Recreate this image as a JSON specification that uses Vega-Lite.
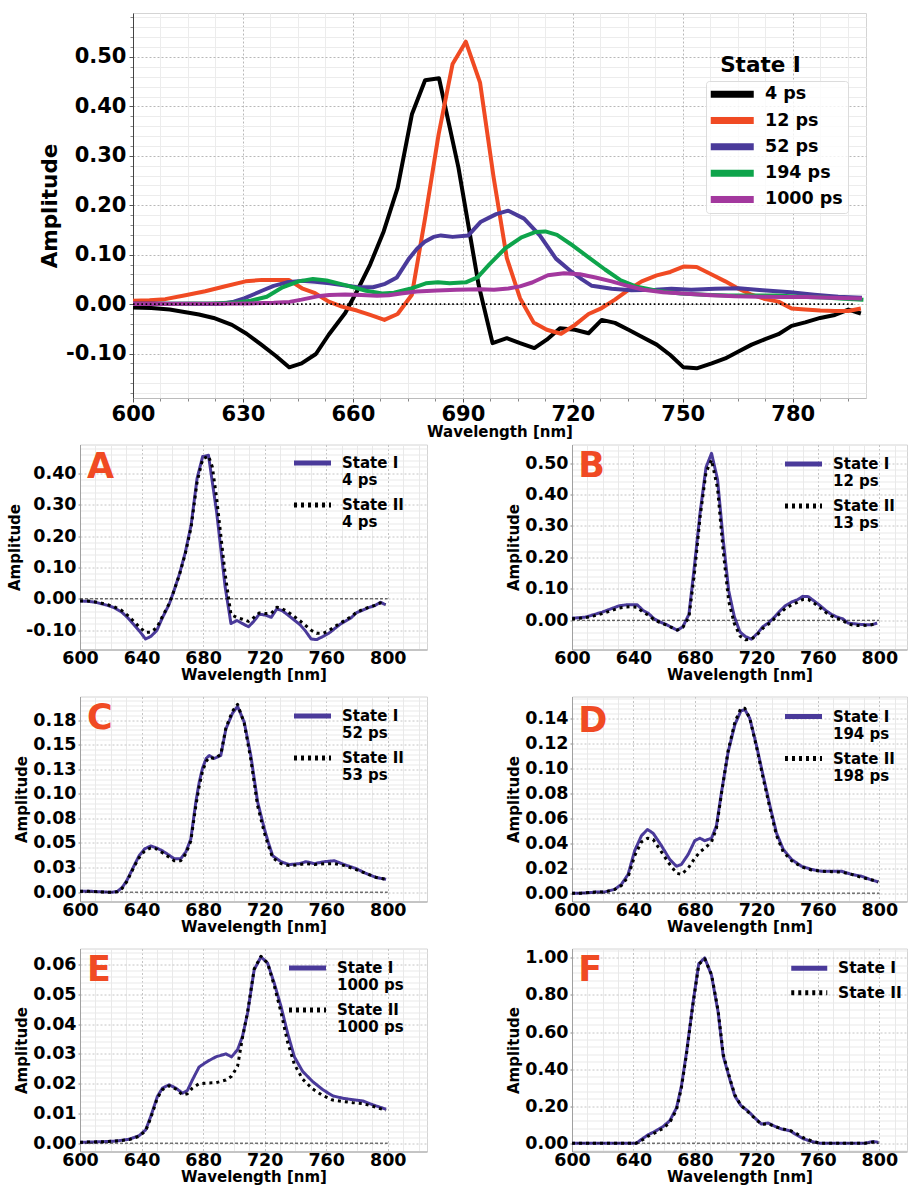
{
  "$schema": "https://vega.github.io/schema/vega-lite/v6.json",
  "padding": {"left": 7, "top": 12, "right": 0, "bottom": 0},
  "columns": 1,
  "spacing": 3.5,
  "config": {
    "font": "DejaVu Sans",
    "view": {"stroke": "#d4d4d4", "strokeWidth": 1},
    "axis": {"labelFont": "DejaVu Sans", "titleFont": "DejaVu Sans", "labelFontWeight": "bold", "titleFontWeight": "bold", "labelColor": "#000000", "titleColor": "#000000"},
    "legend": {"labelFont": "DejaVu Sans", "labelFontWeight": "bold", "labelColor": "#000000", "labelLimit": 300},
    "line": {"strokeJoin": "round", "strokeCap": "butt"}
  },
  "resolve": {"scale": {"color": "independent", "strokeDash": "independent"}, "legend": {"color": "independent", "strokeDash": "independent"}},
  "datasets": {
    "spectra": [
      {"panel":"A","state":"State I","delay":"4 ps","wl":600,"amp":-0.007},
      {"panel":"A","state":"State I","delay":"4 ps","wl":605,"amp":-0.008},
      {"panel":"A","state":"State I","delay":"4 ps","wl":610,"amp":-0.011},
      {"panel":"A","state":"State I","delay":"4 ps","wl":614,"amp":-0.016},
      {"panel":"A","state":"State I","delay":"4 ps","wl":618,"amp":-0.021},
      {"panel":"A","state":"State I","delay":"4 ps","wl":622,"amp":-0.028},
      {"panel":"A","state":"State I","delay":"4 ps","wl":627,"amp":-0.042},
      {"panel":"A","state":"State I","delay":"4 ps","wl":631,"amp":-0.06},
      {"panel":"A","state":"State I","delay":"4 ps","wl":635,"amp":-0.082},
      {"panel":"A","state":"State I","delay":"4 ps","wl":639,"amp":-0.105},
      {"panel":"A","state":"State I","delay":"4 ps","wl":642.6,"amp":-0.128},
      {"panel":"A","state":"State I","delay":"4 ps","wl":646,"amp":-0.12},
      {"panel":"A","state":"State I","delay":"4 ps","wl":649.9,"amp":-0.101},
      {"panel":"A","state":"State I","delay":"4 ps","wl":653.4,"amp":-0.062},
      {"panel":"A","state":"State I","delay":"4 ps","wl":657.9,"amp":-0.018},
      {"panel":"A","state":"State I","delay":"4 ps","wl":661.1,"amp":0.026},
      {"panel":"A","state":"State I","delay":"4 ps","wl":664.7,"amp":0.08},
      {"panel":"A","state":"State I","delay":"4 ps","wl":668.4,"amp":0.147},
      {"panel":"A","state":"State I","delay":"4 ps","wl":672.2,"amp":0.235},
      {"panel":"A","state":"State I","delay":"4 ps","wl":676.1,"amp":0.384},
      {"panel":"A","state":"State I","delay":"4 ps","wl":679.7,"amp":0.453},
      {"panel":"A","state":"State I","delay":"4 ps","wl":683.5,"amp":0.457},
      {"panel":"A","state":"State I","delay":"4 ps","wl":688.8,"amp":0.276},
      {"panel":"A","state":"State I","delay":"4 ps","wl":694.3,"amp":0.039},
      {"panel":"A","state":"State I","delay":"4 ps","wl":698.1,"amp":-0.079},
      {"panel":"A","state":"State I","delay":"4 ps","wl":702,"amp":-0.069},
      {"panel":"A","state":"State I","delay":"4 ps","wl":705.6,"amp":-0.079},
      {"panel":"A","state":"State I","delay":"4 ps","wl":709.5,"amp":-0.089},
      {"panel":"A","state":"State I","delay":"4 ps","wl":712.9,"amp":-0.072},
      {"panel":"A","state":"State I","delay":"4 ps","wl":716.5,"amp":-0.049},
      {"panel":"A","state":"State I","delay":"4 ps","wl":720.6,"amp":-0.052},
      {"panel":"A","state":"State I","delay":"4 ps","wl":724.3,"amp":-0.059},
      {"panel":"A","state":"State I","delay":"4 ps","wl":727.9,"amp":-0.032},
      {"panel":"A","state":"State I","delay":"4 ps","wl":731.5,"amp":-0.038},
      {"panel":"A","state":"State I","delay":"4 ps","wl":735.2,"amp":-0.052},
      {"panel":"A","state":"State I","delay":"4 ps","wl":738.8,"amp":-0.066},
      {"panel":"A","state":"State I","delay":"4 ps","wl":742.9,"amp":-0.082},
      {"panel":"A","state":"State I","delay":"4 ps","wl":746.6,"amp":-0.103},
      {"panel":"A","state":"State I","delay":"4 ps","wl":750.2,"amp":-0.128},
      {"panel":"A","state":"State I","delay":"4 ps","wl":753.8,"amp":-0.13},
      {"panel":"A","state":"State I","delay":"4 ps","wl":757.9,"amp":-0.12},
      {"panel":"A","state":"State I","delay":"4 ps","wl":761.6,"amp":-0.11},
      {"panel":"A","state":"State I","delay":"4 ps","wl":765.2,"amp":-0.096},
      {"panel":"A","state":"State I","delay":"4 ps","wl":768.8,"amp":-0.082},
      {"panel":"A","state":"State I","delay":"4 ps","wl":772.5,"amp":-0.071},
      {"panel":"A","state":"State I","delay":"4 ps","wl":776.1,"amp":-0.061},
      {"panel":"A","state":"State I","delay":"4 ps","wl":779.7,"amp":-0.044},
      {"panel":"A","state":"State I","delay":"4 ps","wl":783.4,"amp":-0.037},
      {"panel":"A","state":"State I","delay":"4 ps","wl":787.5,"amp":-0.028},
      {"panel":"A","state":"State I","delay":"4 ps","wl":791.5,"amp":-0.022},
      {"panel":"A","state":"State I","delay":"4 ps","wl":795.2,"amp":-0.011},
      {"panel":"A","state":"State I","delay":"4 ps","wl":798.6,"amp":-0.019},

      {"panel":"A","state":"State II","delay":"4 ps","wl":600,"amp":-0.007},
      {"panel":"A","state":"State II","delay":"4 ps","wl":605,"amp":-0.007},
      {"panel":"A","state":"State II","delay":"4 ps","wl":610,"amp":-0.01},
      {"panel":"A","state":"State II","delay":"4 ps","wl":614,"amp":-0.014},
      {"panel":"A","state":"State II","delay":"4 ps","wl":618,"amp":-0.019},
      {"panel":"A","state":"State II","delay":"4 ps","wl":622,"amp":-0.025},
      {"panel":"A","state":"State II","delay":"4 ps","wl":627,"amp":-0.037},
      {"panel":"A","state":"State II","delay":"4 ps","wl":631,"amp":-0.053},
      {"panel":"A","state":"State II","delay":"4 ps","wl":635,"amp":-0.072},
      {"panel":"A","state":"State II","delay":"4 ps","wl":639,"amp":-0.092},
      {"panel":"A","state":"State II","delay":"4 ps","wl":642.6,"amp":-0.107},
      {"panel":"A","state":"State II","delay":"4 ps","wl":646,"amp":-0.106},
      {"panel":"A","state":"State II","delay":"4 ps","wl":649.9,"amp":-0.092},
      {"panel":"A","state":"State II","delay":"4 ps","wl":653.4,"amp":-0.058},
      {"panel":"A","state":"State II","delay":"4 ps","wl":657.9,"amp":-0.016},
      {"panel":"A","state":"State II","delay":"4 ps","wl":661.1,"amp":0.026},
      {"panel":"A","state":"State II","delay":"4 ps","wl":664.7,"amp":0.078},
      {"panel":"A","state":"State II","delay":"4 ps","wl":668.4,"amp":0.143},
      {"panel":"A","state":"State II","delay":"4 ps","wl":672.2,"amp":0.228},
      {"panel":"A","state":"State II","delay":"4 ps","wl":676.1,"amp":0.372},
      {"panel":"A","state":"State II","delay":"4 ps","wl":679.7,"amp":0.445},
      {"panel":"A","state":"State II","delay":"4 ps","wl":683.5,"amp":0.455},
      {"panel":"A","state":"State II","delay":"4 ps","wl":686,"amp":0.42},
      {"panel":"A","state":"State II","delay":"4 ps","wl":688.8,"amp":0.32},
      {"panel":"A","state":"State II","delay":"4 ps","wl":694.3,"amp":0.08},
      {"panel":"A","state":"State II","delay":"4 ps","wl":698.1,"amp":-0.05},
      {"panel":"A","state":"State II","delay":"4 ps","wl":702,"amp":-0.06},
      {"panel":"A","state":"State II","delay":"4 ps","wl":705.6,"amp":-0.065},
      {"panel":"A","state":"State II","delay":"4 ps","wl":709.5,"amp":-0.072},
      {"panel":"A","state":"State II","delay":"4 ps","wl":712.9,"amp":-0.06},
      {"panel":"A","state":"State II","delay":"4 ps","wl":716.5,"amp":-0.045},
      {"panel":"A","state":"State II","delay":"4 ps","wl":720.6,"amp":-0.047},
      {"panel":"A","state":"State II","delay":"4 ps","wl":724.3,"amp":-0.046},
      {"panel":"A","state":"State II","delay":"4 ps","wl":727.9,"amp":-0.027},
      {"panel":"A","state":"State II","delay":"4 ps","wl":731.5,"amp":-0.032},
      {"panel":"A","state":"State II","delay":"4 ps","wl":735.2,"amp":-0.042},
      {"panel":"A","state":"State II","delay":"4 ps","wl":738.8,"amp":-0.055},
      {"panel":"A","state":"State II","delay":"4 ps","wl":742.9,"amp":-0.07},
      {"panel":"A","state":"State II","delay":"4 ps","wl":746.6,"amp":-0.085},
      {"panel":"A","state":"State II","delay":"4 ps","wl":750.2,"amp":-0.1},
      {"panel":"A","state":"State II","delay":"4 ps","wl":753.8,"amp":-0.11},
      {"panel":"A","state":"State II","delay":"4 ps","wl":757.9,"amp":-0.11},
      {"panel":"A","state":"State II","delay":"4 ps","wl":761.6,"amp":-0.102},
      {"panel":"A","state":"State II","delay":"4 ps","wl":765.2,"amp":-0.09},
      {"panel":"A","state":"State II","delay":"4 ps","wl":768.8,"amp":-0.078},
      {"panel":"A","state":"State II","delay":"4 ps","wl":772.5,"amp":-0.068},
      {"panel":"A","state":"State II","delay":"4 ps","wl":776.1,"amp":-0.057},
      {"panel":"A","state":"State II","delay":"4 ps","wl":779.7,"amp":-0.043},
      {"panel":"A","state":"State II","delay":"4 ps","wl":783.4,"amp":-0.035},
      {"panel":"A","state":"State II","delay":"4 ps","wl":787.5,"amp":-0.027},
      {"panel":"A","state":"State II","delay":"4 ps","wl":791.5,"amp":-0.021},
      {"panel":"A","state":"State II","delay":"4 ps","wl":795.2,"amp":-0.013},
      {"panel":"A","state":"State II","delay":"4 ps","wl":798.6,"amp":-0.018},

      {"panel":"B","state":"State I","delay":"12 ps","wl":600,"amp":0.007},
      {"panel":"B","state":"State I","delay":"12 ps","wl":604.5,"amp":0.008},
      {"panel":"B","state":"State I","delay":"12 ps","wl":608.8,"amp":0.01},
      {"panel":"B","state":"State I","delay":"12 ps","wl":614.3,"amp":0.018},
      {"panel":"B","state":"State I","delay":"12 ps","wl":619.7,"amp":0.026},
      {"panel":"B","state":"State I","delay":"12 ps","wl":625.2,"amp":0.036},
      {"panel":"B","state":"State I","delay":"12 ps","wl":630.7,"amp":0.046},
      {"panel":"B","state":"State I","delay":"12 ps","wl":635.2,"amp":0.049},
      {"panel":"B","state":"State I","delay":"12 ps","wl":638.9,"amp":0.049},
      {"panel":"B","state":"State I","delay":"12 ps","wl":642.5,"amp":0.049},
      {"panel":"B","state":"State I","delay":"12 ps","wl":646.1,"amp":0.032},
      {"panel":"B","state":"State I","delay":"12 ps","wl":649.7,"amp":0.022},
      {"panel":"B","state":"State I","delay":"12 ps","wl":653.4,"amp":0.005},
      {"panel":"B","state":"State I","delay":"12 ps","wl":657,"amp":-0.005},
      {"panel":"B","state":"State I","delay":"12 ps","wl":661.1,"amp":-0.013},
      {"panel":"B","state":"State I","delay":"12 ps","wl":664.7,"amp":-0.022},
      {"panel":"B","state":"State I","delay":"12 ps","wl":668.6,"amp":-0.032},
      {"panel":"B","state":"State I","delay":"12 ps","wl":672.2,"amp":-0.02},
      {"panel":"B","state":"State I","delay":"12 ps","wl":676.1,"amp":0.019},
      {"panel":"B","state":"State I","delay":"12 ps","wl":679.7,"amp":0.174},
      {"panel":"B","state":"State I","delay":"12 ps","wl":683.4,"amp":0.344},
      {"panel":"B","state":"State I","delay":"12 ps","wl":687.2,"amp":0.486},
      {"panel":"B","state":"State I","delay":"12 ps","wl":690.8,"amp":0.531},
      {"panel":"B","state":"State I","delay":"12 ps","wl":694.7,"amp":0.448},
      {"panel":"B","state":"State I","delay":"12 ps","wl":698.4,"amp":0.256},
      {"panel":"B","state":"State I","delay":"12 ps","wl":702,"amp":0.093},
      {"panel":"B","state":"State I","delay":"12 ps","wl":705.6,"amp":0.012},
      {"panel":"B","state":"State I","delay":"12 ps","wl":709.3,"amp":-0.037},
      {"panel":"B","state":"State I","delay":"12 ps","wl":712.9,"amp":-0.052},
      {"panel":"B","state":"State I","delay":"12 ps","wl":716.8,"amp":-0.06},
      {"panel":"B","state":"State I","delay":"12 ps","wl":720.6,"amp":-0.042},
      {"panel":"B","state":"State I","delay":"12 ps","wl":724.3,"amp":-0.02},
      {"panel":"B","state":"State I","delay":"12 ps","wl":727.9,"amp":-0.008},
      {"panel":"B","state":"State I","delay":"12 ps","wl":731.5,"amp":0.009},
      {"panel":"B","state":"State I","delay":"12 ps","wl":735.2,"amp":0.029},
      {"panel":"B","state":"State I","delay":"12 ps","wl":738.8,"amp":0.046},
      {"panel":"B","state":"State I","delay":"12 ps","wl":742.9,"amp":0.058},
      {"panel":"B","state":"State I","delay":"12 ps","wl":746.6,"amp":0.065},
      {"panel":"B","state":"State I","delay":"12 ps","wl":750.2,"amp":0.076},
      {"panel":"B","state":"State I","delay":"12 ps","wl":753.8,"amp":0.075},
      {"panel":"B","state":"State I","delay":"12 ps","wl":757.9,"amp":0.06},
      {"panel":"B","state":"State I","delay":"12 ps","wl":761.6,"amp":0.046},
      {"panel":"B","state":"State I","delay":"12 ps","wl":765.2,"amp":0.031},
      {"panel":"B","state":"State I","delay":"12 ps","wl":768.8,"amp":0.019},
      {"panel":"B","state":"State I","delay":"12 ps","wl":772.5,"amp":0.01},
      {"panel":"B","state":"State I","delay":"12 ps","wl":776.1,"amp":0.005},
      {"panel":"B","state":"State I","delay":"12 ps","wl":779.7,"amp":-0.009},
      {"panel":"B","state":"State I","delay":"12 ps","wl":783.4,"amp":-0.011},
      {"panel":"B","state":"State I","delay":"12 ps","wl":787.5,"amp":-0.013},
      {"panel":"B","state":"State I","delay":"12 ps","wl":791.5,"amp":-0.014},
      {"panel":"B","state":"State I","delay":"12 ps","wl":795.2,"amp":-0.014},
      {"panel":"B","state":"State I","delay":"12 ps","wl":798.6,"amp":-0.009},

      {"panel":"B","state":"State II","delay":"13 ps","wl":600,"amp":0.005},
      {"panel":"B","state":"State II","delay":"13 ps","wl":604.5,"amp":0.006},
      {"panel":"B","state":"State II","delay":"13 ps","wl":608.8,"amp":0.008},
      {"panel":"B","state":"State II","delay":"13 ps","wl":614.3,"amp":0.014},
      {"panel":"B","state":"State II","delay":"13 ps","wl":619.7,"amp":0.021},
      {"panel":"B","state":"State II","delay":"13 ps","wl":625.2,"amp":0.03},
      {"panel":"B","state":"State II","delay":"13 ps","wl":630.7,"amp":0.039},
      {"panel":"B","state":"State II","delay":"13 ps","wl":635.2,"amp":0.042},
      {"panel":"B","state":"State II","delay":"13 ps","wl":638.9,"amp":0.043},
      {"panel":"B","state":"State II","delay":"13 ps","wl":642.5,"amp":0.041},
      {"panel":"B","state":"State II","delay":"13 ps","wl":646.1,"amp":0.026},
      {"panel":"B","state":"State II","delay":"13 ps","wl":649.7,"amp":0.016},
      {"panel":"B","state":"State II","delay":"13 ps","wl":653.4,"amp":0.002},
      {"panel":"B","state":"State II","delay":"13 ps","wl":657,"amp":-0.007},
      {"panel":"B","state":"State II","delay":"13 ps","wl":661.1,"amp":-0.015},
      {"panel":"B","state":"State II","delay":"13 ps","wl":664.7,"amp":-0.023},
      {"panel":"B","state":"State II","delay":"13 ps","wl":668.6,"amp":-0.031},
      {"panel":"B","state":"State II","delay":"13 ps","wl":672.2,"amp":-0.022},
      {"panel":"B","state":"State II","delay":"13 ps","wl":676.1,"amp":0.01},
      {"panel":"B","state":"State II","delay":"13 ps","wl":679.7,"amp":0.15},
      {"panel":"B","state":"State II","delay":"13 ps","wl":683.4,"amp":0.33},
      {"panel":"B","state":"State II","delay":"13 ps","wl":687.2,"amp":0.47},
      {"panel":"B","state":"State II","delay":"13 ps","wl":690.8,"amp":0.51},
      {"panel":"B","state":"State II","delay":"13 ps","wl":694.7,"amp":0.42},
      {"panel":"B","state":"State II","delay":"13 ps","wl":698.4,"amp":0.22},
      {"panel":"B","state":"State II","delay":"13 ps","wl":702,"amp":0.06},
      {"panel":"B","state":"State II","delay":"13 ps","wl":705.6,"amp":-0.01},
      {"panel":"B","state":"State II","delay":"13 ps","wl":709.3,"amp":-0.05},
      {"panel":"B","state":"State II","delay":"13 ps","wl":712.9,"amp":-0.062},
      {"panel":"B","state":"State II","delay":"13 ps","wl":716.8,"amp":-0.06},
      {"panel":"B","state":"State II","delay":"13 ps","wl":720.6,"amp":-0.045},
      {"panel":"B","state":"State II","delay":"13 ps","wl":724.3,"amp":-0.025},
      {"panel":"B","state":"State II","delay":"13 ps","wl":727.9,"amp":-0.012},
      {"panel":"B","state":"State II","delay":"13 ps","wl":731.5,"amp":0.004},
      {"panel":"B","state":"State II","delay":"13 ps","wl":735.2,"amp":0.022},
      {"panel":"B","state":"State II","delay":"13 ps","wl":738.8,"amp":0.037},
      {"panel":"B","state":"State II","delay":"13 ps","wl":742.9,"amp":0.049},
      {"panel":"B","state":"State II","delay":"13 ps","wl":746.6,"amp":0.057},
      {"panel":"B","state":"State II","delay":"13 ps","wl":750.2,"amp":0.066},
      {"panel":"B","state":"State II","delay":"13 ps","wl":753.8,"amp":0.066},
      {"panel":"B","state":"State II","delay":"13 ps","wl":757.9,"amp":0.053},
      {"panel":"B","state":"State II","delay":"13 ps","wl":761.6,"amp":0.039},
      {"panel":"B","state":"State II","delay":"13 ps","wl":765.2,"amp":0.025},
      {"panel":"B","state":"State II","delay":"13 ps","wl":768.8,"amp":0.014},
      {"panel":"B","state":"State II","delay":"13 ps","wl":772.5,"amp":0.006},
      {"panel":"B","state":"State II","delay":"13 ps","wl":776.1,"amp":0.0},
      {"panel":"B","state":"State II","delay":"13 ps","wl":779.7,"amp":-0.012},
      {"panel":"B","state":"State II","delay":"13 ps","wl":783.4,"amp":-0.016},
      {"panel":"B","state":"State II","delay":"13 ps","wl":787.5,"amp":-0.017},
      {"panel":"B","state":"State II","delay":"13 ps","wl":791.5,"amp":-0.016},
      {"panel":"B","state":"State II","delay":"13 ps","wl":795.2,"amp":-0.014},
      {"panel":"B","state":"State II","delay":"13 ps","wl":798.6,"amp":-0.01},

      {"panel":"C","state":"State I","delay":"52 ps","wl":600,"amp":0.001},
      {"panel":"C","state":"State I","delay":"52 ps","wl":606,"amp":0.001},
      {"panel":"C","state":"State I","delay":"52 ps","wl":612,"amp":0.0005},
      {"panel":"C","state":"State I","delay":"52 ps","wl":618,"amp":0.0},
      {"panel":"C","state":"State I","delay":"52 ps","wl":621,"amp":0.0},
      {"panel":"C","state":"State I","delay":"52 ps","wl":624.3,"amp":0.0007},
      {"panel":"C","state":"State I","delay":"52 ps","wl":627.5,"amp":0.005},
      {"panel":"C","state":"State I","delay":"52 ps","wl":630.5,"amp":0.012},
      {"panel":"C","state":"State I","delay":"52 ps","wl":633,"amp":0.02},
      {"panel":"C","state":"State I","delay":"52 ps","wl":635.5,"amp":0.028},
      {"panel":"C","state":"State I","delay":"52 ps","wl":638.4,"amp":0.037},
      {"panel":"C","state":"State I","delay":"52 ps","wl":642,"amp":0.044},
      {"panel":"C","state":"State I","delay":"52 ps","wl":646,"amp":0.047},
      {"panel":"C","state":"State I","delay":"52 ps","wl":649.7,"amp":0.045},
      {"panel":"C","state":"State I","delay":"52 ps","wl":653.6,"amp":0.042},
      {"panel":"C","state":"State I","delay":"52 ps","wl":657.5,"amp":0.038},
      {"panel":"C","state":"State I","delay":"52 ps","wl":661.2,"amp":0.034},
      {"panel":"C","state":"State I","delay":"52 ps","wl":665.5,"amp":0.034},
      {"panel":"C","state":"State I","delay":"52 ps","wl":668.8,"amp":0.041},
      {"panel":"C","state":"State I","delay":"52 ps","wl":672,"amp":0.054},
      {"panel":"C","state":"State I","delay":"52 ps","wl":675.3,"amp":0.092},
      {"panel":"C","state":"State I","delay":"52 ps","wl":677.5,"amp":0.112},
      {"panel":"C","state":"State I","delay":"52 ps","wl":679.6,"amp":0.126},
      {"panel":"C","state":"State I","delay":"52 ps","wl":682,"amp":0.136},
      {"panel":"C","state":"State I","delay":"52 ps","wl":684,"amp":0.139},
      {"panel":"C","state":"State I","delay":"52 ps","wl":687.2,"amp":0.136},
      {"panel":"C","state":"State I","delay":"52 ps","wl":691.5,"amp":0.139},
      {"panel":"C","state":"State I","delay":"52 ps","wl":694.8,"amp":0.166},
      {"panel":"C","state":"State I","delay":"52 ps","wl":699.1,"amp":0.182},
      {"panel":"C","state":"State I","delay":"52 ps","wl":702.4,"amp":0.189},
      {"panel":"C","state":"State I","delay":"52 ps","wl":706.7,"amp":0.173},
      {"panel":"C","state":"State I","delay":"52 ps","wl":711,"amp":0.139},
      {"panel":"C","state":"State I","delay":"52 ps","wl":715.4,"amp":0.092},
      {"panel":"C","state":"State I","delay":"52 ps","wl":719.7,"amp":0.065},
      {"panel":"C","state":"State I","delay":"52 ps","wl":722.5,"amp":0.05},
      {"panel":"C","state":"State I","delay":"52 ps","wl":725.2,"amp":0.037},
      {"panel":"C","state":"State I","delay":"52 ps","wl":730.6,"amp":0.031},
      {"panel":"C","state":"State I","delay":"52 ps","wl":736,"amp":0.028},
      {"panel":"C","state":"State I","delay":"52 ps","wl":742.5,"amp":0.029},
      {"panel":"C","state":"State I","delay":"52 ps","wl":746.9,"amp":0.031},
      {"panel":"C","state":"State I","delay":"52 ps","wl":752.3,"amp":0.029},
      {"panel":"C","state":"State I","delay":"52 ps","wl":758.8,"amp":0.031},
      {"panel":"C","state":"State I","delay":"52 ps","wl":765.3,"amp":0.032},
      {"panel":"C","state":"State I","delay":"52 ps","wl":768.5,"amp":0.03},
      {"panel":"C","state":"State I","delay":"52 ps","wl":771.8,"amp":0.028},
      {"panel":"C","state":"State I","delay":"52 ps","wl":779.4,"amp":0.024},
      {"panel":"C","state":"State I","delay":"52 ps","wl":785.9,"amp":0.019},
      {"panel":"C","state":"State I","delay":"52 ps","wl":792.4,"amp":0.015},
      {"panel":"C","state":"State I","delay":"52 ps","wl":798.9,"amp":0.013},

      {"panel":"C","state":"State II","delay":"53 ps","wl":600,"amp":0.001},
      {"panel":"C","state":"State II","delay":"53 ps","wl":606,"amp":0.0008},
      {"panel":"C","state":"State II","delay":"53 ps","wl":612,"amp":0.0003},
      {"panel":"C","state":"State II","delay":"53 ps","wl":618,"amp":0.0},
      {"panel":"C","state":"State II","delay":"53 ps","wl":621,"amp":0.0},
      {"panel":"C","state":"State II","delay":"53 ps","wl":624.3,"amp":0.0005},
      {"panel":"C","state":"State II","delay":"53 ps","wl":627.5,"amp":0.004},
      {"panel":"C","state":"State II","delay":"53 ps","wl":630.5,"amp":0.011},
      {"panel":"C","state":"State II","delay":"53 ps","wl":633,"amp":0.019},
      {"panel":"C","state":"State II","delay":"53 ps","wl":635.5,"amp":0.027},
      {"panel":"C","state":"State II","delay":"53 ps","wl":638.4,"amp":0.035},
      {"panel":"C","state":"State II","delay":"53 ps","wl":642,"amp":0.042},
      {"panel":"C","state":"State II","delay":"53 ps","wl":646,"amp":0.045},
      {"panel":"C","state":"State II","delay":"53 ps","wl":649.7,"amp":0.044},
      {"panel":"C","state":"State II","delay":"53 ps","wl":653.6,"amp":0.04},
      {"panel":"C","state":"State II","delay":"53 ps","wl":657.5,"amp":0.036},
      {"panel":"C","state":"State II","delay":"53 ps","wl":661.2,"amp":0.032},
      {"panel":"C","state":"State II","delay":"53 ps","wl":665.5,"amp":0.032},
      {"panel":"C","state":"State II","delay":"53 ps","wl":668.8,"amp":0.039},
      {"panel":"C","state":"State II","delay":"53 ps","wl":672,"amp":0.052},
      {"panel":"C","state":"State II","delay":"53 ps","wl":675.3,"amp":0.088},
      {"panel":"C","state":"State II","delay":"53 ps","wl":677.5,"amp":0.108},
      {"panel":"C","state":"State II","delay":"53 ps","wl":679.6,"amp":0.123},
      {"panel":"C","state":"State II","delay":"53 ps","wl":682,"amp":0.133},
      {"panel":"C","state":"State II","delay":"53 ps","wl":684,"amp":0.137},
      {"panel":"C","state":"State II","delay":"53 ps","wl":687.2,"amp":0.136},
      {"panel":"C","state":"State II","delay":"53 ps","wl":691.5,"amp":0.14},
      {"panel":"C","state":"State II","delay":"53 ps","wl":694.8,"amp":0.167},
      {"panel":"C","state":"State II","delay":"53 ps","wl":699.1,"amp":0.184},
      {"panel":"C","state":"State II","delay":"53 ps","wl":702.4,"amp":0.191},
      {"panel":"C","state":"State II","delay":"53 ps","wl":706.7,"amp":0.172},
      {"panel":"C","state":"State II","delay":"53 ps","wl":711,"amp":0.135},
      {"panel":"C","state":"State II","delay":"53 ps","wl":715.4,"amp":0.088},
      {"panel":"C","state":"State II","delay":"53 ps","wl":719.7,"amp":0.061},
      {"panel":"C","state":"State II","delay":"53 ps","wl":722.5,"amp":0.047},
      {"panel":"C","state":"State II","delay":"53 ps","wl":725.2,"amp":0.035},
      {"panel":"C","state":"State II","delay":"53 ps","wl":730.6,"amp":0.029},
      {"panel":"C","state":"State II","delay":"53 ps","wl":736,"amp":0.027},
      {"panel":"C","state":"State II","delay":"53 ps","wl":742.5,"amp":0.028},
      {"panel":"C","state":"State II","delay":"53 ps","wl":746.9,"amp":0.029},
      {"panel":"C","state":"State II","delay":"53 ps","wl":752.3,"amp":0.028},
      {"panel":"C","state":"State II","delay":"53 ps","wl":758.8,"amp":0.029},
      {"panel":"C","state":"State II","delay":"53 ps","wl":765.3,"amp":0.029},
      {"panel":"C","state":"State II","delay":"53 ps","wl":768.5,"amp":0.028},
      {"panel":"C","state":"State II","delay":"53 ps","wl":771.8,"amp":0.027},
      {"panel":"C","state":"State II","delay":"53 ps","wl":779.4,"amp":0.023},
      {"panel":"C","state":"State II","delay":"53 ps","wl":785.9,"amp":0.019},
      {"panel":"C","state":"State II","delay":"53 ps","wl":792.4,"amp":0.015},
      {"panel":"C","state":"State II","delay":"53 ps","wl":798.9,"amp":0.013},

      {"panel":"D","state":"State I","delay":"194 ps","wl":600,"amp":0.0},
      {"panel":"D","state":"State I","delay":"194 ps","wl":606,"amp":0.0},
      {"panel":"D","state":"State I","delay":"194 ps","wl":612,"amp":0.0005},
      {"panel":"D","state":"State I","delay":"194 ps","wl":617,"amp":0.001},
      {"panel":"D","state":"State I","delay":"194 ps","wl":621.3,"amp":0.001},
      {"panel":"D","state":"State I","delay":"194 ps","wl":627.8,"amp":0.003},
      {"panel":"D","state":"State I","delay":"194 ps","wl":632.1,"amp":0.007},
      {"panel":"D","state":"State I","delay":"194 ps","wl":636.5,"amp":0.015},
      {"panel":"D","state":"State I","delay":"194 ps","wl":640.8,"amp":0.034},
      {"panel":"D","state":"State I","delay":"194 ps","wl":645.2,"amp":0.046},
      {"panel":"D","state":"State I","delay":"194 ps","wl":649.1,"amp":0.051},
      {"panel":"D","state":"State I","delay":"194 ps","wl":652.8,"amp":0.048},
      {"panel":"D","state":"State I","delay":"194 ps","wl":658.2,"amp":0.038},
      {"panel":"D","state":"State I","delay":"194 ps","wl":663.6,"amp":0.027},
      {"panel":"D","state":"State I","delay":"194 ps","wl":668,"amp":0.0215},
      {"panel":"D","state":"State I","delay":"194 ps","wl":671.2,"amp":0.023},
      {"panel":"D","state":"State I","delay":"194 ps","wl":675.6,"amp":0.031},
      {"panel":"D","state":"State I","delay":"194 ps","wl":679.9,"amp":0.042},
      {"panel":"D","state":"State I","delay":"194 ps","wl":683.2,"amp":0.044},
      {"panel":"D","state":"State I","delay":"194 ps","wl":686.4,"amp":0.042},
      {"panel":"D","state":"State I","delay":"194 ps","wl":690.8,"amp":0.044},
      {"panel":"D","state":"State I","delay":"194 ps","wl":694,"amp":0.054},
      {"panel":"D","state":"State I","delay":"194 ps","wl":697.3,"amp":0.081},
      {"panel":"D","state":"State I","delay":"194 ps","wl":701.6,"amp":0.113},
      {"panel":"D","state":"State I","delay":"194 ps","wl":706,"amp":0.135},
      {"panel":"D","state":"State I","delay":"194 ps","wl":709.9,"amp":0.146},
      {"panel":"D","state":"State I","delay":"194 ps","wl":712.5,"amp":0.147},
      {"panel":"D","state":"State I","delay":"194 ps","wl":715.7,"amp":0.14},
      {"panel":"D","state":"State I","delay":"194 ps","wl":720.1,"amp":0.118},
      {"panel":"D","state":"State I","delay":"194 ps","wl":724.4,"amp":0.094},
      {"panel":"D","state":"State I","delay":"194 ps","wl":728.8,"amp":0.07},
      {"panel":"D","state":"State I","delay":"194 ps","wl":733.1,"amp":0.048},
      {"panel":"D","state":"State I","delay":"194 ps","wl":737.5,"amp":0.035},
      {"panel":"D","state":"State I","delay":"194 ps","wl":742.9,"amp":0.027},
      {"panel":"D","state":"State I","delay":"194 ps","wl":749.4,"amp":0.0215},
      {"panel":"D","state":"State I","delay":"194 ps","wl":755.9,"amp":0.019},
      {"panel":"D","state":"State I","delay":"194 ps","wl":762.4,"amp":0.0175},
      {"panel":"D","state":"State I","delay":"194 ps","wl":768.9,"amp":0.0175},
      {"panel":"D","state":"State I","delay":"194 ps","wl":775.5,"amp":0.0175},
      {"panel":"D","state":"State I","delay":"194 ps","wl":782,"amp":0.015},
      {"panel":"D","state":"State I","delay":"194 ps","wl":788.5,"amp":0.0135},
      {"panel":"D","state":"State I","delay":"194 ps","wl":793.9,"amp":0.011},
      {"panel":"D","state":"State I","delay":"194 ps","wl":799.3,"amp":0.009},

      {"panel":"D","state":"State II","delay":"198 ps","wl":600,"amp":0.0},
      {"panel":"D","state":"State II","delay":"198 ps","wl":606,"amp":0.0},
      {"panel":"D","state":"State II","delay":"198 ps","wl":612,"amp":0.0005},
      {"panel":"D","state":"State II","delay":"198 ps","wl":617,"amp":0.001},
      {"panel":"D","state":"State II","delay":"198 ps","wl":621.3,"amp":0.001},
      {"panel":"D","state":"State II","delay":"198 ps","wl":627.8,"amp":0.003},
      {"panel":"D","state":"State II","delay":"198 ps","wl":632.1,"amp":0.006},
      {"panel":"D","state":"State II","delay":"198 ps","wl":636.5,"amp":0.013},
      {"panel":"D","state":"State II","delay":"198 ps","wl":640.8,"amp":0.03},
      {"panel":"D","state":"State II","delay":"198 ps","wl":645.2,"amp":0.041},
      {"panel":"D","state":"State II","delay":"198 ps","wl":649.1,"amp":0.044},
      {"panel":"D","state":"State II","delay":"198 ps","wl":652.8,"amp":0.043},
      {"panel":"D","state":"State II","delay":"198 ps","wl":658.2,"amp":0.033},
      {"panel":"D","state":"State II","delay":"198 ps","wl":663.6,"amp":0.023},
      {"panel":"D","state":"State II","delay":"198 ps","wl":668,"amp":0.016},
      {"panel":"D","state":"State II","delay":"198 ps","wl":671.2,"amp":0.015},
      {"panel":"D","state":"State II","delay":"198 ps","wl":675.6,"amp":0.02},
      {"panel":"D","state":"State II","delay":"198 ps","wl":679.9,"amp":0.028},
      {"panel":"D","state":"State II","delay":"198 ps","wl":683.2,"amp":0.033},
      {"panel":"D","state":"State II","delay":"198 ps","wl":686.4,"amp":0.036},
      {"panel":"D","state":"State II","delay":"198 ps","wl":690.8,"amp":0.041},
      {"panel":"D","state":"State II","delay":"198 ps","wl":694,"amp":0.052},
      {"panel":"D","state":"State II","delay":"198 ps","wl":697.3,"amp":0.08},
      {"panel":"D","state":"State II","delay":"198 ps","wl":701.6,"amp":0.114},
      {"panel":"D","state":"State II","delay":"198 ps","wl":706,"amp":0.137},
      {"panel":"D","state":"State II","delay":"198 ps","wl":709.9,"amp":0.148},
      {"panel":"D","state":"State II","delay":"198 ps","wl":712.5,"amp":0.148},
      {"panel":"D","state":"State II","delay":"198 ps","wl":715.7,"amp":0.14},
      {"panel":"D","state":"State II","delay":"198 ps","wl":720.1,"amp":0.117},
      {"panel":"D","state":"State II","delay":"198 ps","wl":724.4,"amp":0.092},
      {"panel":"D","state":"State II","delay":"198 ps","wl":728.8,"amp":0.068},
      {"panel":"D","state":"State II","delay":"198 ps","wl":733.1,"amp":0.046},
      {"panel":"D","state":"State II","delay":"198 ps","wl":737.5,"amp":0.033},
      {"panel":"D","state":"State II","delay":"198 ps","wl":742.9,"amp":0.026},
      {"panel":"D","state":"State II","delay":"198 ps","wl":749.4,"amp":0.021},
      {"panel":"D","state":"State II","delay":"198 ps","wl":755.9,"amp":0.0185},
      {"panel":"D","state":"State II","delay":"198 ps","wl":762.4,"amp":0.0175},
      {"panel":"D","state":"State II","delay":"198 ps","wl":768.9,"amp":0.0172},
      {"panel":"D","state":"State II","delay":"198 ps","wl":775.5,"amp":0.0168},
      {"panel":"D","state":"State II","delay":"198 ps","wl":782,"amp":0.015},
      {"panel":"D","state":"State II","delay":"198 ps","wl":788.5,"amp":0.0125},
      {"panel":"D","state":"State II","delay":"198 ps","wl":793.9,"amp":0.011},
      {"panel":"D","state":"State II","delay":"198 ps","wl":799.3,"amp":0.009},

      {"panel":"E","state":"State I","delay":"1000 ps","wl":600,"amp":0.0003},
      {"panel":"E","state":"State I","delay":"1000 ps","wl":608,"amp":0.0004},
      {"panel":"E","state":"State I","delay":"1000 ps","wl":615,"amp":0.0005},
      {"panel":"E","state":"State I","delay":"1000 ps","wl":623.2,"amp":0.0007},
      {"panel":"E","state":"State I","delay":"1000 ps","wl":631.9,"amp":0.0013},
      {"panel":"E","state":"State I","delay":"1000 ps","wl":638.4,"amp":0.0025},
      {"panel":"E","state":"State I","delay":"1000 ps","wl":642.7,"amp":0.0045},
      {"panel":"E","state":"State I","delay":"1000 ps","wl":646,"amp":0.009},
      {"panel":"E","state":"State I","delay":"1000 ps","wl":650.3,"amp":0.0157},
      {"panel":"E","state":"State I","delay":"1000 ps","wl":653.6,"amp":0.0185},
      {"panel":"E","state":"State I","delay":"1000 ps","wl":657.9,"amp":0.0196},
      {"panel":"E","state":"State I","delay":"1000 ps","wl":662.3,"amp":0.0185},
      {"panel":"E","state":"State I","delay":"1000 ps","wl":666.6,"amp":0.0168},
      {"panel":"E","state":"State I","delay":"1000 ps","wl":669.8,"amp":0.0177},
      {"panel":"E","state":"State I","delay":"1000 ps","wl":673.1,"amp":0.0213},
      {"panel":"E","state":"State I","delay":"1000 ps","wl":677.4,"amp":0.0256},
      {"panel":"E","state":"State I","delay":"1000 ps","wl":682.9,"amp":0.0275},
      {"panel":"E","state":"State I","delay":"1000 ps","wl":688.3,"amp":0.029},
      {"panel":"E","state":"State I","delay":"1000 ps","wl":694.8,"amp":0.03},
      {"panel":"E","state":"State I","delay":"1000 ps","wl":698.5,"amp":0.029},
      {"panel":"E","state":"State I","delay":"1000 ps","wl":702.4,"amp":0.0314},
      {"panel":"E","state":"State I","delay":"1000 ps","wl":705.6,"amp":0.0359},
      {"panel":"E","state":"State I","delay":"1000 ps","wl":708.9,"amp":0.0437},
      {"panel":"E","state":"State I","delay":"1000 ps","wl":713.2,"amp":0.0583},
      {"panel":"E","state":"State I","delay":"1000 ps","wl":717.6,"amp":0.0626},
      {"panel":"E","state":"State I","delay":"1000 ps","wl":721.9,"amp":0.0605},
      {"panel":"E","state":"State I","delay":"1000 ps","wl":726.2,"amp":0.0538},
      {"panel":"E","state":"State I","delay":"1000 ps","wl":730.6,"amp":0.046},
      {"panel":"E","state":"State I","delay":"1000 ps","wl":734.9,"amp":0.037},
      {"panel":"E","state":"State I","delay":"1000 ps","wl":739.3,"amp":0.029},
      {"panel":"E","state":"State I","delay":"1000 ps","wl":744.7,"amp":0.0241},
      {"panel":"E","state":"State I","delay":"1000 ps","wl":751.2,"amp":0.0207},
      {"panel":"E","state":"State I","delay":"1000 ps","wl":757.7,"amp":0.018},
      {"panel":"E","state":"State I","delay":"1000 ps","wl":764.2,"amp":0.0159},
      {"panel":"E","state":"State I","delay":"1000 ps","wl":770.7,"amp":0.0151},
      {"panel":"E","state":"State I","delay":"1000 ps","wl":777.2,"amp":0.0146},
      {"panel":"E","state":"State I","delay":"1000 ps","wl":783.7,"amp":0.0142},
      {"panel":"E","state":"State I","delay":"1000 ps","wl":790.2,"amp":0.0129},
      {"panel":"E","state":"State I","delay":"1000 ps","wl":798.9,"amp":0.0114},

      {"panel":"E","state":"State II","delay":"1000 ps","wl":600,"amp":0.0003},
      {"panel":"E","state":"State II","delay":"1000 ps","wl":608,"amp":0.0004},
      {"panel":"E","state":"State II","delay":"1000 ps","wl":615,"amp":0.0005},
      {"panel":"E","state":"State II","delay":"1000 ps","wl":623.2,"amp":0.0007},
      {"panel":"E","state":"State II","delay":"1000 ps","wl":631.9,"amp":0.0012},
      {"panel":"E","state":"State II","delay":"1000 ps","wl":638.4,"amp":0.0023},
      {"panel":"E","state":"State II","delay":"1000 ps","wl":642.7,"amp":0.0042},
      {"panel":"E","state":"State II","delay":"1000 ps","wl":646,"amp":0.0085},
      {"panel":"E","state":"State II","delay":"1000 ps","wl":650.3,"amp":0.0152},
      {"panel":"E","state":"State II","delay":"1000 ps","wl":653.6,"amp":0.018},
      {"panel":"E","state":"State II","delay":"1000 ps","wl":657.9,"amp":0.0193},
      {"panel":"E","state":"State II","delay":"1000 ps","wl":662.3,"amp":0.0182},
      {"panel":"E","state":"State II","delay":"1000 ps","wl":666.6,"amp":0.0162},
      {"panel":"E","state":"State II","delay":"1000 ps","wl":669.8,"amp":0.0166},
      {"panel":"E","state":"State II","delay":"1000 ps","wl":673.1,"amp":0.0185},
      {"panel":"E","state":"State II","delay":"1000 ps","wl":677.4,"amp":0.02},
      {"panel":"E","state":"State II","delay":"1000 ps","wl":682.9,"amp":0.0202},
      {"panel":"E","state":"State II","delay":"1000 ps","wl":688.3,"amp":0.0203},
      {"panel":"E","state":"State II","delay":"1000 ps","wl":694.8,"amp":0.0212},
      {"panel":"E","state":"State II","delay":"1000 ps","wl":698.5,"amp":0.0225},
      {"panel":"E","state":"State II","delay":"1000 ps","wl":702.4,"amp":0.0258},
      {"panel":"E","state":"State II","delay":"1000 ps","wl":705.6,"amp":0.0355},
      {"panel":"E","state":"State II","delay":"1000 ps","wl":708.9,"amp":0.044},
      {"panel":"E","state":"State II","delay":"1000 ps","wl":713.2,"amp":0.0585},
      {"panel":"E","state":"State II","delay":"1000 ps","wl":717.6,"amp":0.0628},
      {"panel":"E","state":"State II","delay":"1000 ps","wl":721.9,"amp":0.0605},
      {"panel":"E","state":"State II","delay":"1000 ps","wl":726.2,"amp":0.053},
      {"panel":"E","state":"State II","delay":"1000 ps","wl":730.6,"amp":0.044},
      {"panel":"E","state":"State II","delay":"1000 ps","wl":734.9,"amp":0.034},
      {"panel":"E","state":"State II","delay":"1000 ps","wl":739.3,"amp":0.0265},
      {"panel":"E","state":"State II","delay":"1000 ps","wl":744.7,"amp":0.0215},
      {"panel":"E","state":"State II","delay":"1000 ps","wl":751.2,"amp":0.0182},
      {"panel":"E","state":"State II","delay":"1000 ps","wl":757.7,"amp":0.016},
      {"panel":"E","state":"State II","delay":"1000 ps","wl":764.2,"amp":0.0145},
      {"panel":"E","state":"State II","delay":"1000 ps","wl":770.7,"amp":0.014},
      {"panel":"E","state":"State II","delay":"1000 ps","wl":777.2,"amp":0.0136},
      {"panel":"E","state":"State II","delay":"1000 ps","wl":783.7,"amp":0.0133},
      {"panel":"E","state":"State II","delay":"1000 ps","wl":790.2,"amp":0.0124},
      {"panel":"E","state":"State II","delay":"1000 ps","wl":798.9,"amp":0.011},

      {"panel":"F","state":"State I","delay":"norm","wl":600,"amp":0},
      {"panel":"F","state":"State I","delay":"norm","wl":620,"amp":0},
      {"panel":"F","state":"State I","delay":"norm","wl":641.9,"amp":0},
      {"panel":"F","state":"State I","delay":"norm","wl":646.3,"amp":0.027},
      {"panel":"F","state":"State I","delay":"norm","wl":649.5,"amp":0.045},
      {"panel":"F","state":"State I","delay":"norm","wl":653.9,"amp":0.063},
      {"panel":"F","state":"State I","delay":"norm","wl":659.3,"amp":0.09},
      {"panel":"F","state":"State I","delay":"norm","wl":663.6,"amp":0.121},
      {"panel":"F","state":"State I","delay":"norm","wl":668,"amp":0.19},
      {"panel":"F","state":"State I","delay":"norm","wl":671.2,"amp":0.308},
      {"panel":"F","state":"State I","delay":"norm","wl":674.5,"amp":0.489},
      {"panel":"F","state":"State I","delay":"norm","wl":678.8,"amp":0.761},
      {"panel":"F","state":"State I","delay":"norm","wl":682.5,"amp":0.969},
      {"panel":"F","state":"State I","delay":"norm","wl":686.4,"amp":1.0},
      {"panel":"F","state":"State I","delay":"norm","wl":690.8,"amp":0.906},
      {"panel":"F","state":"State I","delay":"norm","wl":695.1,"amp":0.707},
      {"panel":"F","state":"State I","delay":"norm","wl":698.4,"amp":0.471},
      {"panel":"F","state":"State I","delay":"norm","wl":702.7,"amp":0.344},
      {"panel":"F","state":"State I","delay":"norm","wl":706,"amp":0.254},
      {"panel":"F","state":"State I","delay":"norm","wl":709.9,"amp":0.203},
      {"panel":"F","state":"State I","delay":"norm","wl":714.7,"amp":0.172},
      {"panel":"F","state":"State I","delay":"norm","wl":719,"amp":0.136},
      {"panel":"F","state":"State I","delay":"norm","wl":723.3,"amp":0.103},
      {"panel":"F","state":"State I","delay":"norm","wl":727.7,"amp":0.109},
      {"panel":"F","state":"State I","delay":"norm","wl":732,"amp":0.091},
      {"panel":"F","state":"State I","delay":"norm","wl":736.4,"amp":0.076},
      {"panel":"F","state":"State I","delay":"norm","wl":741.8,"amp":0.067},
      {"panel":"F","state":"State I","delay":"norm","wl":746.1,"amp":0.045},
      {"panel":"F","state":"State I","delay":"norm","wl":750.5,"amp":0.024},
      {"panel":"F","state":"State I","delay":"norm","wl":755.9,"amp":0.009},
      {"panel":"F","state":"State I","delay":"norm","wl":761.3,"amp":0},
      {"panel":"F","state":"State I","delay":"norm","wl":775,"amp":0},
      {"panel":"F","state":"State I","delay":"norm","wl":790.7,"amp":0},
      {"panel":"F","state":"State I","delay":"norm","wl":796.1,"amp":0.009},
      {"panel":"F","state":"State I","delay":"norm","wl":799.3,"amp":0.004},

      {"panel":"F","state":"State II","delay":"norm","wl":600,"amp":0},
      {"panel":"F","state":"State II","delay":"norm","wl":620,"amp":0},
      {"panel":"F","state":"State II","delay":"norm","wl":641.9,"amp":0},
      {"panel":"F","state":"State II","delay":"norm","wl":646.3,"amp":0.02},
      {"panel":"F","state":"State II","delay":"norm","wl":649.5,"amp":0.038},
      {"panel":"F","state":"State II","delay":"norm","wl":653.9,"amp":0.055},
      {"panel":"F","state":"State II","delay":"norm","wl":659.3,"amp":0.08},
      {"panel":"F","state":"State II","delay":"norm","wl":663.6,"amp":0.112},
      {"panel":"F","state":"State II","delay":"norm","wl":668,"amp":0.18},
      {"panel":"F","state":"State II","delay":"norm","wl":671.2,"amp":0.3},
      {"panel":"F","state":"State II","delay":"norm","wl":674.5,"amp":0.48},
      {"panel":"F","state":"State II","delay":"norm","wl":678.8,"amp":0.755},
      {"panel":"F","state":"State II","delay":"norm","wl":682.5,"amp":0.965},
      {"panel":"F","state":"State II","delay":"norm","wl":686.4,"amp":0.995},
      {"panel":"F","state":"State II","delay":"norm","wl":690.8,"amp":0.91},
      {"panel":"F","state":"State II","delay":"norm","wl":695.1,"amp":0.715},
      {"panel":"F","state":"State II","delay":"norm","wl":698.4,"amp":0.48},
      {"panel":"F","state":"State II","delay":"norm","wl":702.7,"amp":0.35},
      {"panel":"F","state":"State II","delay":"norm","wl":706,"amp":0.26},
      {"panel":"F","state":"State II","delay":"norm","wl":709.9,"amp":0.205},
      {"panel":"F","state":"State II","delay":"norm","wl":714.7,"amp":0.168},
      {"panel":"F","state":"State II","delay":"norm","wl":719,"amp":0.133},
      {"panel":"F","state":"State II","delay":"norm","wl":723.3,"amp":0.102},
      {"panel":"F","state":"State II","delay":"norm","wl":727.7,"amp":0.105},
      {"panel":"F","state":"State II","delay":"norm","wl":732,"amp":0.09},
      {"panel":"F","state":"State II","delay":"norm","wl":736.4,"amp":0.078},
      {"panel":"F","state":"State II","delay":"norm","wl":741.8,"amp":0.069},
      {"panel":"F","state":"State II","delay":"norm","wl":746.1,"amp":0.052},
      {"panel":"F","state":"State II","delay":"norm","wl":750.5,"amp":0.03},
      {"panel":"F","state":"State II","delay":"norm","wl":755.9,"amp":0.012},
      {"panel":"F","state":"State II","delay":"norm","wl":761.3,"amp":0},
      {"panel":"F","state":"State II","delay":"norm","wl":775,"amp":0},
      {"panel":"F","state":"State II","delay":"norm","wl":790.7,"amp":0},
      {"panel":"F","state":"State II","delay":"norm","wl":796.1,"amp":0.006},
      {"panel":"F","state":"State II","delay":"norm","wl":799.3,"amp":0.003}
    ]
  },
  "data": {"name": "spectra"},
  "concat": [
    {
      "bounds": "flush",
      "spacing": 0,
      "hconcat": [
        {
          "width": 53,
          "height": 10,
          "view": {"stroke": null},
          "data": {"values": []},
          "mark": "point"
        },
        {
          "width": 733,
          "height": 385,
          "layer": [
            {
              "transform": [{"filter": "datum.state == 'State I' && datum.panel != 'F'"}],
              "mark": {"type": "line", "strokeWidth": 4},
              "encoding": {
                "x": {"field": "wl", "type": "quantitative", "scale": {"domain": [600, 800], "nice": false, "zero": false},
                  "axis": {"orient": "bottom", "values": [607.5,615,622.5,637.5,645,652.5,667.5,675,682.5,697.5,705,712.5,727.5,735,742.5,757.5,765,772.5,787.5,795], "grid": true, "gridColor": "#ececec", "labels": false, "ticks": true, "tickSize": 3, "tickColor": "#888888", "domain": false, "title": null}},
                "y": {"field": "amp", "type": "quantitative", "scale": {"domain": [-0.19, 0.589], "nice": false, "zero": false},
                  "axis": {"orient": "left", "values": [-0.18,-0.16,-0.14,-0.12,-0.08,-0.06,-0.04,-0.02,0.02,0.04,0.06,0.08,0.12,0.14,0.16,0.18,0.22,0.24,0.26,0.28,0.32,0.34,0.36,0.38,0.42,0.44,0.46,0.48,0.52,0.54,0.56,0.58], "grid": true, "gridColor": "#ececec", "labels": false, "ticks": true, "tickSize": 3, "tickColor": "#888888", "domain": false, "title": null}},
                "color": {"field": "delay", "type": "nominal",
                  "scale": {"domain": ["4 ps", "12 ps", "52 ps", "194 ps", "1000 ps"], "range": ["#000000", "#f04a23", "#4a3a9a", "#0ea44b", "#a3389e"]},
                  "legend": {"title": null, "orient": "none", "legendX": 626, "legendY": 68, "symbolType": "M-4.3,0L4.3,0", "symbolSize": 100, "symbolOffset": 13, "symbolStrokeWidth": 7, "labelFontSize": 17.5, "labelOffset": 24, "rowPadding": 7.3, "padding": 4.5, "strokeColor": "#dcdcdc", "fillColor": "rgba(255,255,255,0.8)", "cornerRadius": 3}}
              }
            },
            {
              "data": {"values": [{}]},
              "mark": {"type": "rule", "color": "#000000", "strokeWidth": 1.6, "strokeDash": [1.6, 2.6]},
              "encoding": {
                "x": {"datum": 600, "type": "quantitative",
                  "axis": {"orient": "bottom", "values": [600,630,660,690,720,750,780], "grid": true, "gridColor": "#b8b8b8", "gridDash": [2,2], "labelFontSize": 21, "labelPadding": 1, "tickSize": 4, "tickColor": "#555555", "domainColor": "#bbbbbb", "title": "Wavelength [nm]", "titleFontSize": 15, "titlePadding": 0, "labelFlush": false}},
                "x2": {"datum": 797},
                "y": {"datum": 0, "type": "quantitative",
                  "axis": {"orient": "left", "values": [-0.1,0,0.1,0.2,0.3,0.4,0.5], "labelExpr": "replace(format(datum.value + 1e-9, '.2f'), '\u2212', '-')", "grid": true, "gridColor": "#b8b8b8", "gridDash": [2,2], "labelFontSize": 21, "labelPadding": 3, "tickSize": 4, "tickColor": "#555555", "domainColor": "#444444", "title": "Amplitude", "titleFontSize": 21.5, "titlePadding": 4}}
              }
            },
            {
              "data": {"values": [{}]},
              "mark": {"type": "text", "text": "State I", "fontSize": 21.5, "fontWeight": "bold", "align": "center", "baseline": "alphabetic", "color": "#000000"},
              "encoding": {
                "x": {"datum": 771.2, "type": "quantitative", "axis": null},
                "y": {"datum": 0.4706, "type": "quantitative", "axis": null}
              }
            }
          ],
          "resolve": {"axis": {"x": "independent", "y": "independent"}}
        }
      ]
    },
    {
      "spacing": 13,
      "resolve": {"scale": {"color": "independent", "strokeDash": "independent"}, "legend": {"color": "independent", "strokeDash": "independent"}},
      "vconcat": [
        {
          "spacing": 78,
          "resolve": {"scale": {"color": "independent", "strokeDash": "independent"}, "legend": {"color": "independent", "strokeDash": "independent"}},
          "hconcat": [
            {
              "width": 347, "height": 205,
              "layer": [
                {
                  "transform": [{"filter": "datum.panel == 'A' && datum.state == 'State I'"}],
                  "mark": {"type": "line", "strokeWidth": 3},
                  "encoding": {
                    "x": {"field": "wl", "type": "quantitative", "scale": {"domain": [600, 825.5], "nice": false, "zero": false},
                      "axis": {"orient": "bottom", "values": [610,620,630,650,660,670,690,700,710,730,740,750,770,780,790,810,820], "grid": true, "gridColor": "#e9e9e9", "labels": false, "ticks": false, "domain": false, "title": null}},
                    "y": {"field": "amp", "type": "quantitative", "scale": {"domain": [-0.1615, 0.4915], "nice": false, "zero": false},
                      "axis": {"orient": "left", "values": [-0.16,-0.14,-0.12,-0.08,-0.06,-0.04,-0.02,0.02,0.04,0.06,0.08,0.12,0.14,0.16,0.18,0.22,0.24,0.26,0.28,0.32,0.34,0.36,0.38,0.42,0.44,0.46,0.48], "grid": true, "gridColor": "#e9e9e9", "labels": false, "ticks": false, "domain": false, "title": null}},
                    "color": {"field": "state", "type": "nominal", "scale": {"domain": ["State I", "State II"], "range": ["#4a3a9a", "#000000"]},
                      "legend": {"title": null, "orient": "none", "legendX": 214, "legendY": 11, "symbolType": "M-3.7,0L3.7,0", "symbolSize": 100, "symbolOffset": 11, "symbolStrokeWidth": 5, "labelFontSize": 15, "labelOffset": 22, "rowPadding": 9, "labelExpr": "datum.label == 'State I' ? ['State I', ' 4 ps'] : ['State II', ' 4 ps']", "encode": {"labels": {"update": {"lineHeight": {"value": 18}}}, "symbols": {"update": {"strokeDash": {"signal": "datum.value == 'State II' ? [6, 6] : [1, 0]"}}}}}},
                    "strokeDash": {"field": "state", "type": "nominal", "scale": {"domain": ["State I", "State II"], "range": [[1, 0], [3, 4]]},
                      "legend": {"title": null, "orient": "none", "legendX": 214, "legendY": 11, "symbolType": "M-3.7,0L3.7,0", "symbolSize": 100, "symbolOffset": 11, "symbolStrokeWidth": 5, "labelFontSize": 15, "labelOffset": 22, "rowPadding": 9, "labelExpr": "datum.label == 'State I' ? ['State I', ' 4 ps'] : ['State II', ' 4 ps']", "encode": {"labels": {"update": {"lineHeight": {"value": 18}}}, "symbols": {"update": {"strokeDash": {"signal": "datum.value == 'State II' ? [6, 6] : [1, 0]"}}}}}}
                  }
                },
                {
                  "transform": [{"filter": "datum.panel == 'A' && datum.state == 'State II'"}],
                  "mark": {"type": "line", "strokeWidth": 3},
                  "encoding": {
                    "x": {"field": "wl", "type": "quantitative",
                      "axis": {"orient": "bottom", "values": [600,640,680,720,760,800], "grid": true, "gridColor": "#c4c4c4", "gridDash": [2,2], "labelFontSize": 17.5, "labelPadding": 0, "ticks": false, "domainColor": "#a0a0a0", "title": "Wavelength [nm]", "titleFontSize": 15, "titlePadding": 0, "labelFlush": false}},
                    "y": {"field": "amp", "type": "quantitative",
                      "axis": {"orient": "left", "values": [-0.1,0,0.1,0.2,0.3,0.4], "labelExpr": "replace(format(datum.value + 1e-9, '.2f'), '\u2212', '-')", "grid": true, "gridColor": "#c4c4c4", "gridDash": [2,2], "labelFontSize": 17.5, "labelPadding": 2, "tickSize": 2, "tickColor": "#888888", "domainColor": "#a0a0a0", "title": "Amplitude", "titleFontSize": 15, "titlePadding": 3}},
                    "color": {"field": "state", "type": "nominal", "scale": {"domain": ["State I", "State II"], "range": ["#4a3a9a", "#000000"]},
                      "legend": {"title": null, "orient": "none", "legendX": 214, "legendY": 11, "symbolType": "M-3.7,0L3.7,0", "symbolSize": 100, "symbolOffset": 11, "symbolStrokeWidth": 5, "labelFontSize": 15, "labelOffset": 22, "rowPadding": 9, "labelExpr": "datum.label == 'State I' ? ['State I', ' 4 ps'] : ['State II', ' 4 ps']", "encode": {"labels": {"update": {"lineHeight": {"value": 18}}}, "symbols": {"update": {"strokeDash": {"signal": "datum.value == 'State II' ? [6, 6] : [1, 0]"}}}}}},
                    "strokeDash": {"field": "state", "type": "nominal", "scale": {"domain": ["State I", "State II"], "range": [[1, 0], [3, 4]]},
                      "legend": {"title": null, "orient": "none", "legendX": 214, "legendY": 11, "symbolType": "M-3.7,0L3.7,0", "symbolSize": 100, "symbolOffset": 11, "symbolStrokeWidth": 5, "labelFontSize": 15, "labelOffset": 22, "rowPadding": 9, "labelExpr": "datum.label == 'State I' ? ['State I', ' 4 ps'] : ['State II', ' 4 ps']", "encode": {"labels": {"update": {"lineHeight": {"value": 18}}}, "symbols": {"update": {"strokeDash": {"signal": "datum.value == 'State II' ? [6, 6] : [1, 0]"}}}}}}
                  }
                },
                {
                  "data": {"values": [{}]},
                  "mark": {"type": "rule", "color": "#000000", "strokeWidth": 0.8, "strokeDash": [3, 2]},
                  "encoding": {"x": {"datum": 600, "type": "quantitative", "axis": null}, "x2": {"datum": 800}, "y": {"datum": 0, "type": "quantitative", "axis": null}}
                },
                {
                  "data": {"values": [{}]},
                  "mark": {"type": "text", "text": "A", "fontSize": 35, "fontWeight": "bold", "color": "#f04a23", "align": "left", "baseline": "alphabetic"},
                  "encoding": {"x": {"datum": 604.6, "type": "quantitative", "axis": null}, "y": {"datum": 0.384, "type": "quantitative", "axis": null}}
                }
              ],
              "resolve": {"axis": {"x": "independent", "y": "independent"}}
            },
            {
              "width": 335, "height": 205,
              "layer": [
                {
                  "transform": [{"filter": "datum.panel == 'B' && datum.state == 'State I'"}],
                  "mark": {"type": "line", "strokeWidth": 3},
                  "encoding": {
                    "x": {"field": "wl", "type": "quantitative", "scale": {"domain": [600, 818], "nice": false, "zero": false},
                      "axis": {"orient": "bottom", "values": [610,620,630,650,660,670,690,700,710,730,740,750,770,780,790,810], "grid": true, "gridColor": "#e9e9e9", "labels": false, "ticks": false, "domain": false, "title": null}},
                    "y": {"field": "amp", "type": "quantitative", "scale": {"domain": [-0.093, 0.559], "nice": false, "zero": false},
                      "axis": {"orient": "left", "values": [-0.08,-0.06,-0.04,-0.02,0.02,0.04,0.06,0.08,0.12,0.14,0.16,0.18,0.22,0.24,0.26,0.28,0.32,0.34,0.36,0.38,0.42,0.44,0.46,0.48,0.52,0.54], "grid": true, "gridColor": "#e9e9e9", "labels": false, "ticks": false, "domain": false, "title": null}},
                    "color": {"field": "state", "type": "nominal", "scale": {"domain": ["State I", "State II"], "range": ["#4a3a9a", "#000000"]},
                      "legend": {"title": null, "orient": "none", "legendX": 213, "legendY": 12, "symbolType": "M-3.7,0L3.7,0", "symbolSize": 100, "symbolOffset": 11, "symbolStrokeWidth": 5, "labelFontSize": 15, "labelOffset": 22, "rowPadding": 9, "labelExpr": "datum.label == 'State I' ? ['State I', ' 12 ps'] : ['State II', ' 13 ps']", "encode": {"labels": {"update": {"lineHeight": {"value": 18}}}, "symbols": {"update": {"strokeDash": {"signal": "datum.value == 'State II' ? [6, 6] : [1, 0]"}}}}}},
                    "strokeDash": {"field": "state", "type": "nominal", "scale": {"domain": ["State I", "State II"], "range": [[1, 0], [3, 4]]},
                      "legend": {"title": null, "orient": "none", "legendX": 213, "legendY": 12, "symbolType": "M-3.7,0L3.7,0", "symbolSize": 100, "symbolOffset": 11, "symbolStrokeWidth": 5, "labelFontSize": 15, "labelOffset": 22, "rowPadding": 9, "labelExpr": "datum.label == 'State I' ? ['State I', ' 12 ps'] : ['State II', ' 13 ps']", "encode": {"labels": {"update": {"lineHeight": {"value": 18}}}, "symbols": {"update": {"strokeDash": {"signal": "datum.value == 'State II' ? [6, 6] : [1, 0]"}}}}}}
                  }
                },
                {
                  "transform": [{"filter": "datum.panel == 'B' && datum.state == 'State II'"}],
                  "mark": {"type": "line", "strokeWidth": 3},
                  "encoding": {
                    "x": {"field": "wl", "type": "quantitative",
                      "axis": {"orient": "bottom", "values": [600,640,680,720,760,800], "grid": true, "gridColor": "#c4c4c4", "gridDash": [2,2], "labelFontSize": 17.5, "labelPadding": 0, "ticks": false, "domainColor": "#a0a0a0", "title": "Wavelength [nm]", "titleFontSize": 15, "titlePadding": 0, "labelFlush": false}},
                    "y": {"field": "amp", "type": "quantitative",
                      "axis": {"orient": "left", "values": [0,0.1,0.2,0.3,0.4,0.5], "labelExpr": "replace(format(datum.value + 1e-9, '.2f'), '\u2212', '-')", "grid": true, "gridColor": "#c4c4c4", "gridDash": [2,2], "labelFontSize": 17.5, "labelPadding": 2, "tickSize": 2, "tickColor": "#888888", "domainColor": "#a0a0a0", "title": "Amplitude", "titleFontSize": 15, "titlePadding": 3}},
                    "color": {"field": "state", "type": "nominal", "scale": {"domain": ["State I", "State II"], "range": ["#4a3a9a", "#000000"]},
                      "legend": {"title": null, "orient": "none", "legendX": 213, "legendY": 12, "symbolType": "M-3.7,0L3.7,0", "symbolSize": 100, "symbolOffset": 11, "symbolStrokeWidth": 5, "labelFontSize": 15, "labelOffset": 22, "rowPadding": 9, "labelExpr": "datum.label == 'State I' ? ['State I', ' 12 ps'] : ['State II', ' 13 ps']", "encode": {"labels": {"update": {"lineHeight": {"value": 18}}}, "symbols": {"update": {"strokeDash": {"signal": "datum.value == 'State II' ? [6, 6] : [1, 0]"}}}}}},
                    "strokeDash": {"field": "state", "type": "nominal", "scale": {"domain": ["State I", "State II"], "range": [[1, 0], [3, 4]]},
                      "legend": {"title": null, "orient": "none", "legendX": 213, "legendY": 12, "symbolType": "M-3.7,0L3.7,0", "symbolSize": 100, "symbolOffset": 11, "symbolStrokeWidth": 5, "labelFontSize": 15, "labelOffset": 22, "rowPadding": 9, "labelExpr": "datum.label == 'State I' ? ['State I', ' 12 ps'] : ['State II', ' 13 ps']", "encode": {"labels": {"update": {"lineHeight": {"value": 18}}}, "symbols": {"update": {"strokeDash": {"signal": "datum.value == 'State II' ? [6, 6] : [1, 0]"}}}}}}
                  }
                },
                {
                  "data": {"values": [{}]},
                  "mark": {"type": "rule", "color": "#000000", "strokeWidth": 0.8, "strokeDash": [3, 2]},
                  "encoding": {"x": {"datum": 600, "type": "quantitative", "axis": null}, "x2": {"datum": 800}, "y": {"datum": 0, "type": "quantitative", "axis": null}}
                },
                {
                  "data": {"values": [{}]},
                  "mark": {"type": "text", "text": "B", "fontSize": 35, "fontWeight": "bold", "color": "#f04a23", "align": "left", "baseline": "alphabetic"},
                  "encoding": {"x": {"datum": 604, "type": "quantitative", "axis": null}, "y": {"datum": 0.455, "type": "quantitative", "axis": null}}
                }
              ],
              "resolve": {"axis": {"x": "independent", "y": "independent"}}
            }
          ]
        },
        {
          "spacing": 78,
          "resolve": {"scale": {"color": "independent", "strokeDash": "independent"}, "legend": {"color": "independent", "strokeDash": "independent"}},
          "hconcat": [
            {
              "width": 347, "height": 205,
              "layer": [
                {
                  "transform": [{"filter": "datum.panel == 'C' && datum.state == 'State I'"}],
                  "mark": {"type": "line", "strokeWidth": 3},
                  "encoding": {
                    "x": {"field": "wl", "type": "quantitative", "scale": {"domain": [600, 825.5], "nice": false, "zero": false},
                      "axis": {"orient": "bottom", "values": [610,620,630,650,660,670,690,700,710,730,740,750,770,780,790,810,820], "grid": true, "gridColor": "#e9e9e9", "labels": false, "ticks": false, "domain": false, "title": null}},
                    "y": {"field": "amp", "type": "quantitative", "scale": {"domain": [-0.0095, 0.199], "nice": false, "zero": false},
                      "axis": {"orient": "left", "values": [0.005,0.01,0.015,0.02,0.03,0.035,0.04,0.045,0.055,0.06,0.065,0.07,0.08,0.085,0.09,0.095,0.105,0.11,0.115,0.12,0.13,0.135,0.14,0.145,0.155,0.16,0.165,0.17,0.18,0.185,0.19,0.195], "grid": true, "gridColor": "#e9e9e9", "labels": false, "ticks": false, "domain": false, "title": null}},
                    "color": {"field": "state", "type": "nominal", "scale": {"domain": ["State I", "State II"], "range": ["#4a3a9a", "#000000"]},
                      "legend": {"title": null, "orient": "none", "legendX": 214, "legendY": 12, "symbolType": "M-3.7,0L3.7,0", "symbolSize": 100, "symbolOffset": 11, "symbolStrokeWidth": 5, "labelFontSize": 15, "labelOffset": 22, "rowPadding": 9, "labelExpr": "datum.label == 'State I' ? ['State I', ' 52 ps'] : ['State II', ' 53 ps']", "encode": {"labels": {"update": {"lineHeight": {"value": 18}}}, "symbols": {"update": {"strokeDash": {"signal": "datum.value == 'State II' ? [6, 6] : [1, 0]"}}}}}},
                    "strokeDash": {"field": "state", "type": "nominal", "scale": {"domain": ["State I", "State II"], "range": [[1, 0], [3, 4]]},
                      "legend": {"title": null, "orient": "none", "legendX": 214, "legendY": 12, "symbolType": "M-3.7,0L3.7,0", "symbolSize": 100, "symbolOffset": 11, "symbolStrokeWidth": 5, "labelFontSize": 15, "labelOffset": 22, "rowPadding": 9, "labelExpr": "datum.label == 'State I' ? ['State I', ' 52 ps'] : ['State II', ' 53 ps']", "encode": {"labels": {"update": {"lineHeight": {"value": 18}}}, "symbols": {"update": {"strokeDash": {"signal": "datum.value == 'State II' ? [6, 6] : [1, 0]"}}}}}}
                  }
                },
                {
                  "transform": [{"filter": "datum.panel == 'C' && datum.state == 'State II'"}],
                  "mark": {"type": "line", "strokeWidth": 3},
                  "encoding": {
                    "x": {"field": "wl", "type": "quantitative",
                      "axis": {"orient": "bottom", "values": [600,640,680,720,760,800], "grid": true, "gridColor": "#c4c4c4", "gridDash": [2,2], "labelFontSize": 17.5, "labelPadding": 0, "ticks": false, "domainColor": "#a0a0a0", "title": "Wavelength [nm]", "titleFontSize": 15, "titlePadding": 0, "labelFlush": false}},
                    "y": {"field": "amp", "type": "quantitative",
                      "axis": {"orient": "left", "values": [0,0.025,0.05,0.075,0.1,0.125,0.15,0.175], "labelExpr": "replace(format(datum.value + 1e-9, '.2f'), '\u2212', '-')", "grid": true, "gridColor": "#c4c4c4", "gridDash": [2,2], "labelFontSize": 17.5, "labelPadding": 2, "tickSize": 2, "tickColor": "#888888", "domainColor": "#a0a0a0", "title": "Amplitude", "titleFontSize": 15, "titlePadding": 3}},
                    "color": {"field": "state", "type": "nominal", "scale": {"domain": ["State I", "State II"], "range": ["#4a3a9a", "#000000"]},
                      "legend": {"title": null, "orient": "none", "legendX": 214, "legendY": 12, "symbolType": "M-3.7,0L3.7,0", "symbolSize": 100, "symbolOffset": 11, "symbolStrokeWidth": 5, "labelFontSize": 15, "labelOffset": 22, "rowPadding": 9, "labelExpr": "datum.label == 'State I' ? ['State I', ' 52 ps'] : ['State II', ' 53 ps']", "encode": {"labels": {"update": {"lineHeight": {"value": 18}}}, "symbols": {"update": {"strokeDash": {"signal": "datum.value == 'State II' ? [6, 6] : [1, 0]"}}}}}},
                    "strokeDash": {"field": "state", "type": "nominal", "scale": {"domain": ["State I", "State II"], "range": [[1, 0], [3, 4]]},
                      "legend": {"title": null, "orient": "none", "legendX": 214, "legendY": 12, "symbolType": "M-3.7,0L3.7,0", "symbolSize": 100, "symbolOffset": 11, "symbolStrokeWidth": 5, "labelFontSize": 15, "labelOffset": 22, "rowPadding": 9, "labelExpr": "datum.label == 'State I' ? ['State I', ' 52 ps'] : ['State II', ' 53 ps']", "encode": {"labels": {"update": {"lineHeight": {"value": 18}}}, "symbols": {"update": {"strokeDash": {"signal": "datum.value == 'State II' ? [6, 6] : [1, 0]"}}}}}}
                  }
                },
                {
                  "data": {"values": [{}]},
                  "mark": {"type": "rule", "color": "#000000", "strokeWidth": 0.8, "strokeDash": [3, 2]},
                  "encoding": {"x": {"datum": 600, "type": "quantitative", "axis": null}, "x2": {"datum": 800}, "y": {"datum": 0, "type": "quantitative", "axis": null}}
                },
                {
                  "data": {"values": [{}]},
                  "mark": {"type": "text", "text": "C", "fontSize": 35, "fontWeight": "bold", "color": "#f04a23", "align": "left", "baseline": "alphabetic"},
                  "encoding": {"x": {"datum": 604.6, "type": "quantitative", "axis": null}, "y": {"datum": 0.166, "type": "quantitative", "axis": null}}
                }
              ],
              "resolve": {"axis": {"x": "independent", "y": "independent"}}
            },
            {
              "width": 335, "height": 205,
              "layer": [
                {
                  "transform": [{"filter": "datum.panel == 'D' && datum.state == 'State I'"}],
                  "mark": {"type": "line", "strokeWidth": 3},
                  "encoding": {
                    "x": {"field": "wl", "type": "quantitative", "scale": {"domain": [600, 818], "nice": false, "zero": false},
                      "axis": {"orient": "bottom", "values": [610,620,630,650,660,670,690,700,710,730,740,750,770,780,790,810], "grid": true, "gridColor": "#e9e9e9", "labels": false, "ticks": false, "domain": false, "title": null}},
                    "y": {"field": "amp", "type": "quantitative", "scale": {"domain": [-0.0067, 0.1575], "nice": false, "zero": false},
                      "axis": {"orient": "left", "values": [0.004,0.008,0.012,0.016,0.024,0.028,0.032,0.036,0.044,0.048,0.052,0.056,0.064,0.068,0.072,0.076,0.084,0.088,0.092,0.096,0.104,0.108,0.112,0.116,0.124,0.128,0.132,0.136,0.144,0.148,0.152,0.156], "grid": true, "gridColor": "#e9e9e9", "labels": false, "ticks": false, "domain": false, "title": null}},
                    "color": {"field": "state", "type": "nominal", "scale": {"domain": ["State I", "State II"], "range": ["#4a3a9a", "#000000"]},
                      "legend": {"title": null, "orient": "none", "legendX": 213, "legendY": 12.5, "symbolType": "M-3.7,0L3.7,0", "symbolSize": 100, "symbolOffset": 11, "symbolStrokeWidth": 5, "labelFontSize": 15, "labelOffset": 22, "rowPadding": 9, "labelExpr": "datum.label == 'State I' ? ['State I', ' 194 ps'] : ['State II', ' 198 ps']", "encode": {"labels": {"update": {"lineHeight": {"value": 18}}}, "symbols": {"update": {"strokeDash": {"signal": "datum.value == 'State II' ? [6, 6] : [1, 0]"}}}}}},
                    "strokeDash": {"field": "state", "type": "nominal", "scale": {"domain": ["State I", "State II"], "range": [[1, 0], [3, 4]]},
                      "legend": {"title": null, "orient": "none", "legendX": 213, "legendY": 12.5, "symbolType": "M-3.7,0L3.7,0", "symbolSize": 100, "symbolOffset": 11, "symbolStrokeWidth": 5, "labelFontSize": 15, "labelOffset": 22, "rowPadding": 9, "labelExpr": "datum.label == 'State I' ? ['State I', ' 194 ps'] : ['State II', ' 198 ps']", "encode": {"labels": {"update": {"lineHeight": {"value": 18}}}, "symbols": {"update": {"strokeDash": {"signal": "datum.value == 'State II' ? [6, 6] : [1, 0]"}}}}}}
                  }
                },
                {
                  "transform": [{"filter": "datum.panel == 'D' && datum.state == 'State II'"}],
                  "mark": {"type": "line", "strokeWidth": 3},
                  "encoding": {
                    "x": {"field": "wl", "type": "quantitative",
                      "axis": {"orient": "bottom", "values": [600,640,680,720,760,800], "grid": true, "gridColor": "#c4c4c4", "gridDash": [2,2], "labelFontSize": 17.5, "labelPadding": 0, "ticks": false, "domainColor": "#a0a0a0", "title": "Wavelength [nm]", "titleFontSize": 15, "titlePadding": 0, "labelFlush": false}},
                    "y": {"field": "amp", "type": "quantitative",
                      "axis": {"orient": "left", "values": [0,0.02,0.04,0.06,0.08,0.1,0.12,0.14], "labelExpr": "replace(format(datum.value + 1e-9, '.2f'), '\u2212', '-')", "grid": true, "gridColor": "#c4c4c4", "gridDash": [2,2], "labelFontSize": 17.5, "labelPadding": 2, "tickSize": 2, "tickColor": "#888888", "domainColor": "#a0a0a0", "title": "Amplitude", "titleFontSize": 15, "titlePadding": 3}},
                    "color": {"field": "state", "type": "nominal", "scale": {"domain": ["State I", "State II"], "range": ["#4a3a9a", "#000000"]},
                      "legend": {"title": null, "orient": "none", "legendX": 213, "legendY": 12.5, "symbolType": "M-3.7,0L3.7,0", "symbolSize": 100, "symbolOffset": 11, "symbolStrokeWidth": 5, "labelFontSize": 15, "labelOffset": 22, "rowPadding": 9, "labelExpr": "datum.label == 'State I' ? ['State I', ' 194 ps'] : ['State II', ' 198 ps']", "encode": {"labels": {"update": {"lineHeight": {"value": 18}}}, "symbols": {"update": {"strokeDash": {"signal": "datum.value == 'State II' ? [6, 6] : [1, 0]"}}}}}},
                    "strokeDash": {"field": "state", "type": "nominal", "scale": {"domain": ["State I", "State II"], "range": [[1, 0], [3, 4]]},
                      "legend": {"title": null, "orient": "none", "legendX": 213, "legendY": 12.5, "symbolType": "M-3.7,0L3.7,0", "symbolSize": 100, "symbolOffset": 11, "symbolStrokeWidth": 5, "labelFontSize": 15, "labelOffset": 22, "rowPadding": 9, "labelExpr": "datum.label == 'State I' ? ['State I', ' 194 ps'] : ['State II', ' 198 ps']", "encode": {"labels": {"update": {"lineHeight": {"value": 18}}}, "symbols": {"update": {"strokeDash": {"signal": "datum.value == 'State II' ? [6, 6] : [1, 0]"}}}}}}
                  }
                },
                {
                  "data": {"values": [{}]},
                  "mark": {"type": "rule", "color": "#000000", "strokeWidth": 0.8, "strokeDash": [3, 2]},
                  "encoding": {"x": {"datum": 600, "type": "quantitative", "axis": null}, "x2": {"datum": 800}, "y": {"datum": 0, "type": "quantitative", "axis": null}}
                },
                {
                  "data": {"values": [{}]},
                  "mark": {"type": "text", "text": "D", "fontSize": 35, "fontWeight": "bold", "color": "#f04a23", "align": "left", "baseline": "alphabetic"},
                  "encoding": {"x": {"datum": 604, "type": "quantitative", "axis": null}, "y": {"datum": 0.129, "type": "quantitative", "axis": null}}
                }
              ],
              "resolve": {"axis": {"x": "independent", "y": "independent"}}
            }
          ]
        },
        {
          "spacing": 78,
          "resolve": {"scale": {"color": "independent", "strokeDash": "independent"}, "legend": {"color": "independent", "strokeDash": "independent"}},
          "hconcat": [
            {
              "width": 347, "height": 203,
              "layer": [
                {
                  "transform": [{"filter": "datum.panel == 'E' && datum.state == 'State I'"}],
                  "mark": {"type": "line", "strokeWidth": 3},
                  "encoding": {
                    "x": {"field": "wl", "type": "quantitative", "scale": {"domain": [600, 825.5], "nice": false, "zero": false},
                      "axis": {"orient": "bottom", "values": [610,620,630,650,660,670,690,700,710,730,740,750,770,780,790,810,820], "grid": true, "gridColor": "#e9e9e9", "labels": false, "ticks": false, "domain": false, "title": null}},
                    "y": {"field": "amp", "type": "quantitative", "scale": {"domain": [-0.0028, 0.0654], "nice": false, "zero": false},
                      "axis": {"orient": "left", "values": [0.002,0.004,0.006,0.008,0.012,0.014,0.016,0.018,0.022,0.024,0.026,0.028,0.032,0.034,0.036,0.038,0.042,0.044,0.046,0.048,0.052,0.054,0.056,0.058,0.062,0.064], "grid": true, "gridColor": "#e9e9e9", "labels": false, "ticks": false, "domain": false, "title": null}},
                    "color": {"field": "state", "type": "nominal", "scale": {"domain": ["State I", "State II"], "range": ["#4a3a9a", "#000000"]},
                      "legend": {"title": null, "orient": "none", "legendX": 209, "legendY": 12, "symbolType": "M-3.7,0L3.7,0", "symbolSize": 100, "symbolOffset": 11, "symbolStrokeWidth": 5, "labelFontSize": 15, "labelOffset": 22, "rowPadding": 9, "labelExpr": "datum.label == 'State I' ? ['State I', ' 1000 ps'] : ['State II', ' 1000 ps']", "encode": {"labels": {"update": {"lineHeight": {"value": 18}}}, "symbols": {"update": {"strokeDash": {"signal": "datum.value == 'State II' ? [6, 6] : [1, 0]"}}}}}},
                    "strokeDash": {"field": "state", "type": "nominal", "scale": {"domain": ["State I", "State II"], "range": [[1, 0], [3, 4]]},
                      "legend": {"title": null, "orient": "none", "legendX": 209, "legendY": 12, "symbolType": "M-3.7,0L3.7,0", "symbolSize": 100, "symbolOffset": 11, "symbolStrokeWidth": 5, "labelFontSize": 15, "labelOffset": 22, "rowPadding": 9, "labelExpr": "datum.label == 'State I' ? ['State I', ' 1000 ps'] : ['State II', ' 1000 ps']", "encode": {"labels": {"update": {"lineHeight": {"value": 18}}}, "symbols": {"update": {"strokeDash": {"signal": "datum.value == 'State II' ? [6, 6] : [1, 0]"}}}}}}
                  }
                },
                {
                  "transform": [{"filter": "datum.panel == 'E' && datum.state == 'State II'"}],
                  "mark": {"type": "line", "strokeWidth": 3},
                  "encoding": {
                    "x": {"field": "wl", "type": "quantitative",
                      "axis": {"orient": "bottom", "values": [600,640,680,720,760,800], "grid": true, "gridColor": "#c4c4c4", "gridDash": [2,2], "labelFontSize": 17.5, "labelPadding": 0, "ticks": false, "domainColor": "#a0a0a0", "title": "Wavelength [nm]", "titleFontSize": 15, "titlePadding": 0, "labelFlush": false}},
                    "y": {"field": "amp", "type": "quantitative",
                      "axis": {"orient": "left", "values": [0,0.01,0.02,0.03,0.04,0.05,0.06], "labelExpr": "replace(format(datum.value + 1e-9, '.2f'), '\u2212', '-')", "grid": true, "gridColor": "#c4c4c4", "gridDash": [2,2], "labelFontSize": 17.5, "labelPadding": 2, "tickSize": 2, "tickColor": "#888888", "domainColor": "#a0a0a0", "title": "Amplitude", "titleFontSize": 15, "titlePadding": 3}},
                    "color": {"field": "state", "type": "nominal", "scale": {"domain": ["State I", "State II"], "range": ["#4a3a9a", "#000000"]},
                      "legend": {"title": null, "orient": "none", "legendX": 209, "legendY": 12, "symbolType": "M-3.7,0L3.7,0", "symbolSize": 100, "symbolOffset": 11, "symbolStrokeWidth": 5, "labelFontSize": 15, "labelOffset": 22, "rowPadding": 9, "labelExpr": "datum.label == 'State I' ? ['State I', ' 1000 ps'] : ['State II', ' 1000 ps']", "encode": {"labels": {"update": {"lineHeight": {"value": 18}}}, "symbols": {"update": {"strokeDash": {"signal": "datum.value == 'State II' ? [6, 6] : [1, 0]"}}}}}},
                    "strokeDash": {"field": "state", "type": "nominal", "scale": {"domain": ["State I", "State II"], "range": [[1, 0], [3, 4]]},
                      "legend": {"title": null, "orient": "none", "legendX": 209, "legendY": 12, "symbolType": "M-3.7,0L3.7,0", "symbolSize": 100, "symbolOffset": 11, "symbolStrokeWidth": 5, "labelFontSize": 15, "labelOffset": 22, "rowPadding": 9, "labelExpr": "datum.label == 'State I' ? ['State I', ' 1000 ps'] : ['State II', ' 1000 ps']", "encode": {"labels": {"update": {"lineHeight": {"value": 18}}}, "symbols": {"update": {"strokeDash": {"signal": "datum.value == 'State II' ? [6, 6] : [1, 0]"}}}}}}
                  }
                },
                {
                  "data": {"values": [{}]},
                  "mark": {"type": "rule", "color": "#000000", "strokeWidth": 0.8, "strokeDash": [3, 2]},
                  "encoding": {"x": {"datum": 600, "type": "quantitative", "axis": null}, "x2": {"datum": 800}, "y": {"datum": 0, "type": "quantitative", "axis": null}}
                },
                {
                  "data": {"values": [{}]},
                  "mark": {"type": "text", "text": "E", "fontSize": 35, "fontWeight": "bold", "color": "#f04a23", "align": "left", "baseline": "alphabetic"},
                  "encoding": {"x": {"datum": 604.6, "type": "quantitative", "axis": null}, "y": {"datum": 0.0544, "type": "quantitative", "axis": null}}
                }
              ],
              "resolve": {"axis": {"x": "independent", "y": "independent"}}
            },
            {
              "width": 335, "height": 203,
              "layer": [
                {
                  "transform": [{"filter": "datum.panel == 'F' && datum.state == 'State I'"}],
                  "mark": {"type": "line", "strokeWidth": 3},
                  "encoding": {
                    "x": {"field": "wl", "type": "quantitative", "scale": {"domain": [600, 818], "nice": false, "zero": false},
                      "axis": {"orient": "bottom", "values": [610,620,630,650,660,670,690,700,710,730,740,750,770,780,790,810], "grid": true, "gridColor": "#e9e9e9", "labels": false, "ticks": false, "domain": false, "title": null}},
                    "y": {"field": "amp", "type": "quantitative", "scale": {"domain": [-0.045, 1.051], "nice": false, "zero": false},
                      "axis": {"orient": "left", "values": [-0.04,0.04,0.08,0.12,0.16,0.24,0.28,0.32,0.36,0.44,0.48,0.52,0.56,0.64,0.68,0.72,0.76,0.84,0.88,0.92,0.96,1.04], "grid": true, "gridColor": "#e9e9e9", "labels": false, "ticks": false, "domain": false, "title": null}},
                    "color": {"field": "state", "type": "nominal", "scale": {"domain": ["State I", "State II"], "range": ["#4a3a9a", "#000000"]},
                      "legend": {"title": null, "orient": "none", "legendX": 219, "legendY": 12, "symbolType": "M-3.6,0L3.6,0", "symbolSize": 100, "symbolOffset": 10.5, "symbolStrokeWidth": 5, "labelFontSize": 15.5, "labelOffset": 21, "rowPadding": 7.5, "encode": {"symbols": {"update": {"strokeDash": {"signal": "datum.value == 'State II' ? [6, 6] : [1, 0]"}}}}}},
                    "strokeDash": {"field": "state", "type": "nominal", "scale": {"domain": ["State I", "State II"], "range": [[1, 0], [3, 4]]},
                      "legend": {"title": null, "orient": "none", "legendX": 219, "legendY": 12, "symbolType": "M-3.6,0L3.6,0", "symbolSize": 100, "symbolOffset": 10.5, "symbolStrokeWidth": 5, "labelFontSize": 15.5, "labelOffset": 21, "rowPadding": 7.5, "encode": {"symbols": {"update": {"strokeDash": {"signal": "datum.value == 'State II' ? [6, 6] : [1, 0]"}}}}}}
                  }
                },
                {
                  "transform": [{"filter": "datum.panel == 'F' && datum.state == 'State II'"}],
                  "mark": {"type": "line", "strokeWidth": 3},
                  "encoding": {
                    "x": {"field": "wl", "type": "quantitative",
                      "axis": {"orient": "bottom", "values": [600,640,680,720,760,800], "grid": true, "gridColor": "#c4c4c4", "gridDash": [2,2], "labelFontSize": 17.5, "labelPadding": 0, "ticks": false, "domainColor": "#a0a0a0", "title": "Wavelength [nm]", "titleFontSize": 15, "titlePadding": 0, "labelFlush": false}},
                    "y": {"field": "amp", "type": "quantitative",
                      "axis": {"orient": "left", "values": [0,0.2,0.4,0.6,0.8,1.0], "labelExpr": "replace(format(datum.value + 1e-9, '.2f'), '\u2212', '-')", "grid": true, "gridColor": "#c4c4c4", "gridDash": [2,2], "labelFontSize": 17.5, "labelPadding": 2, "tickSize": 2, "tickColor": "#888888", "domainColor": "#a0a0a0", "title": "Amplitude", "titleFontSize": 15, "titlePadding": 3}},
                    "color": {"field": "state", "type": "nominal", "scale": {"domain": ["State I", "State II"], "range": ["#4a3a9a", "#000000"]},
                      "legend": {"title": null, "orient": "none", "legendX": 219, "legendY": 12, "symbolType": "M-3.6,0L3.6,0", "symbolSize": 100, "symbolOffset": 10.5, "symbolStrokeWidth": 5, "labelFontSize": 15.5, "labelOffset": 21, "rowPadding": 7.5, "encode": {"symbols": {"update": {"strokeDash": {"signal": "datum.value == 'State II' ? [6, 6] : [1, 0]"}}}}}},
                    "strokeDash": {"field": "state", "type": "nominal", "scale": {"domain": ["State I", "State II"], "range": [[1, 0], [3, 4]]},
                      "legend": {"title": null, "orient": "none", "legendX": 219, "legendY": 12, "symbolType": "M-3.6,0L3.6,0", "symbolSize": 100, "symbolOffset": 10.5, "symbolStrokeWidth": 5, "labelFontSize": 15.5, "labelOffset": 21, "rowPadding": 7.5, "encode": {"symbols": {"update": {"strokeDash": {"signal": "datum.value == 'State II' ? [6, 6] : [1, 0]"}}}}}}
                  }
                },
                {
                  "data": {"values": [{}]},
                  "mark": {"type": "rule", "color": "#000000", "strokeWidth": 0.8, "strokeDash": [3, 2]},
                  "encoding": {"x": {"datum": 600, "type": "quantitative", "axis": null}, "x2": {"datum": 800}, "y": {"datum": 0, "type": "quantitative", "axis": null}}
                },
                {
                  "data": {"values": [{}]},
                  "mark": {"type": "text", "text": "F", "fontSize": 35, "fontWeight": "bold", "color": "#f04a23", "align": "left", "baseline": "alphabetic"},
                  "encoding": {"x": {"datum": 604, "type": "quantitative", "axis": null}, "y": {"datum": 0.875, "type": "quantitative", "axis": null}}
                }
              ],
              "resolve": {"axis": {"x": "independent", "y": "independent"}}
            }
          ]
        }
      ]
    }
  ]
}
